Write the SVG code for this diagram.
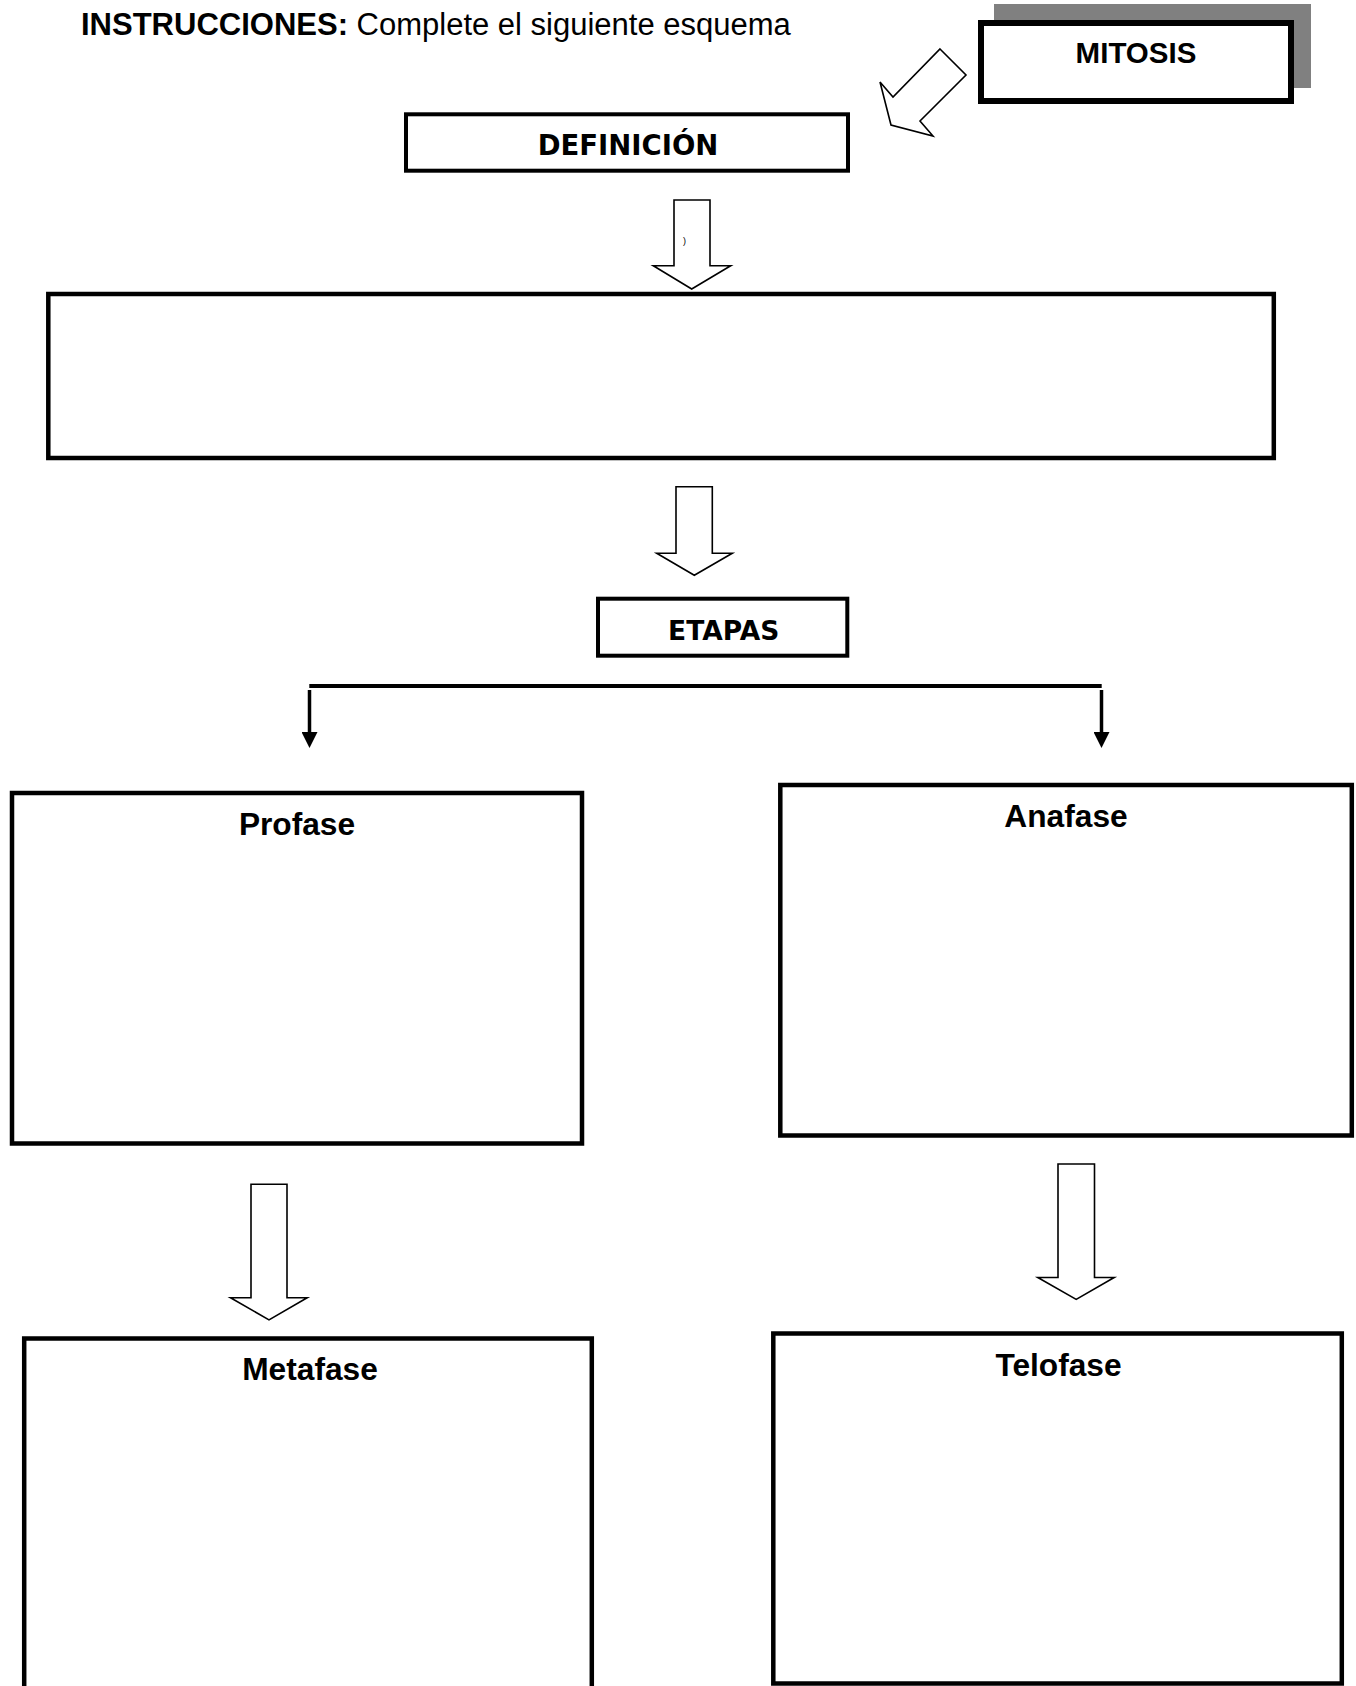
<svg xmlns="http://www.w3.org/2000/svg" width="1356" height="1686" viewBox="0 0 1356 1686">
<style>
.box{fill:#fff;stroke:#000;stroke-width:4.5}
.hollow{fill:#fff;stroke:#000;stroke-width:1.6;stroke-linejoin:miter}
.lbl{font-family:"Liberation Sans",Arial,sans-serif;font-weight:bold;font-size:31.7px;fill:#000;text-anchor:middle}
.vlbl{font-family:"DejaVu Sans","Verdana",sans-serif;font-weight:bold;font-size:26.5px;fill:#000;text-anchor:middle}
.line{stroke:#000;stroke-width:4;fill:none}
</style>
<defs>
<marker id="tri" markerWidth="16" markerHeight="16" refX="0" refY="8" orient="auto" markerUnits="userSpaceOnUse" viewBox="0 0 16 16">
<path d="M0,0 L16,8 L0,16 Z" fill="#000"/>
</marker>
</defs>
<rect width="1356" height="1686" fill="#fff"/>

<g id="instructions">
<text x="81" y="34.5" font-family="'Liberation Sans',Arial,sans-serif" font-size="31" fill="#000"><tspan font-weight="bold">INSTRUCCIONES:</tspan> Complete el siguiente esquema</text>
</g>

<g id="mitosis">
<rect x="994" y="4" width="317" height="84" fill="#808080"/>
<rect x="981" y="23" width="310" height="78" fill="#fff" stroke="#000" stroke-width="6"/>
<text x="1136" y="63" class="lbl" style="font-size:29.5px">MITOSIS</text>
</g>

<g id="definicion">
<rect class="box" x="406" y="114.3" width="442" height="56.4" style="stroke-width:4"/>
<text x="628" y="155" class="vlbl" style="font-size:27.5px">DEFINICIÓN</text>
</g>

<g id="definicion-area">
<rect class="box" x="48.3" y="294" width="1225.5" height="164"/>
</g>

<g id="etapas">
<rect class="box" x="598" y="598.7" width="249.3" height="57" style="stroke-width:4"/>
<text x="723.7" y="640" class="vlbl">ETAPAS</text>
</g>

<g id="profase">
<rect class="box" x="12" y="793" width="570" height="350.5"/>
<text x="297" y="835" class="lbl">Profase</text>
</g>

<g id="anafase">
<rect class="box" x="780.3" y="785" width="571.5" height="350.5"/>
<text x="1066" y="827" class="lbl">Anafase</text>
</g>

<g id="metafase">
<rect class="box" x="24.2" y="1338.5" width="567.6" height="400"/>
<text x="310" y="1379.7" class="lbl">Metafase</text>
</g>

<g id="telofase">
<rect class="box" x="773.3" y="1333.5" width="568.5" height="350"/>
<text x="1058.5" y="1375.6" class="lbl">Telofase</text>
</g>

<g id="connectors">
<polygon class="hollow" points="940,49 966,75 920,121 933,136 891,125 880,82 893,97"/>
<polygon class="hollow" points="674,200 710,200 710,265.7 730.7,265.7 691.7,289 653.3,265.7 674,265.7"/>
<text x="683" y="244" font-family="'Liberation Sans',Arial,sans-serif" font-size="9" fill="#000">)</text>
<polygon class="hollow" points="676,486.7 712.3,486.7 712.3,553.3 732.3,553.3 694.3,575.3 656.7,553.3 676,553.3"/>
<line class="line" x1="309.3" y1="686" x2="1101.7" y2="686"/>
<line class="line" x1="309.5" y1="690" x2="309.5" y2="732" marker-end="url(#tri)" style="stroke-width:3.5"/>
<line class="line" x1="1101.5" y1="690" x2="1101.5" y2="732" marker-end="url(#tri)" style="stroke-width:3.5"/>
<polygon class="hollow" points="251,1184.2 287,1184.2 287,1297.7 307.2,1297.7 269,1319.9 230.5,1297.7 251,1297.7"/>
<polygon class="hollow" points="1058,1164 1094.5,1164 1094.5,1277.5 1114.2,1277.5 1076.2,1299.4 1037.8,1277.5 1058,1277.5"/>
</g>
</svg>
